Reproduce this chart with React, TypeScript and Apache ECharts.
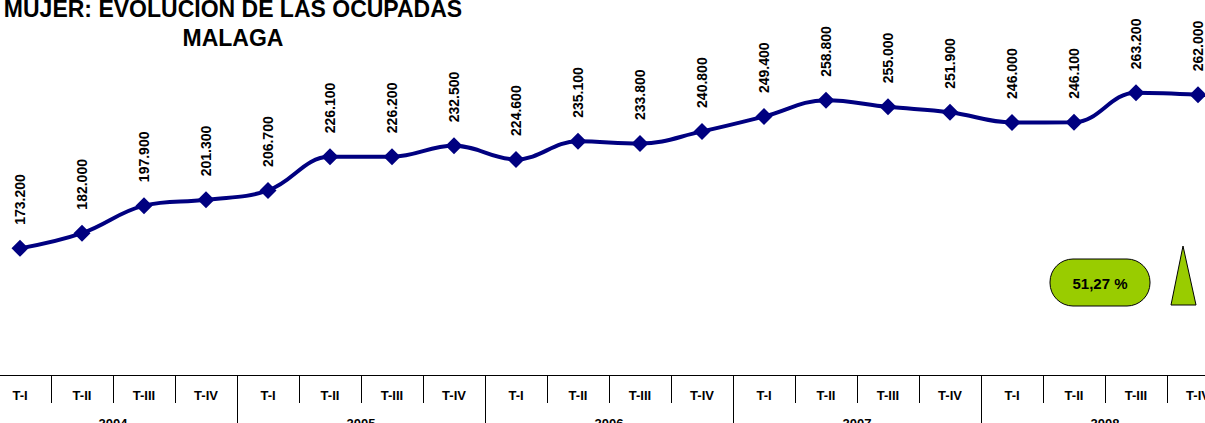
import React, { useEffect, useRef } from "react";
import * as echarts from "echarts";

const quarters = ["T-I", "T-II", "T-III", "T-IV", "T-I", "T-II", "T-III", "T-IV", "T-I", "T-II", "T-III", "T-IV", "T-I", "T-II", "T-III", "T-IV", "T-I", "T-II", "T-III", "T-IV"];
const years = ["2004", "2005", "2006", "2007", "2008"];
const ocupadas = [173200, 182000, 197900, 201300, 206700, 226100, 226200, 232500, 224600, 235100, 233800, 240800, 249400, 258800, 255000, 251900, 246000, 246100, 263200, 262000];
const titleLines = ["MUJER: EVOLUCION DE LAS OCUPADAS", "MALAGA"];
const variation = "51,27 %";

const fmt = (v: number) => {
  const s = Math.round(v).toString();
  return s.replace(/\B(?=(\d{3})+(?!\d))/g, ".");
};

const OFF = 11; // chart canvas starts 11px left of the page edge

export default function App() {
  const ref = useRef<HTMLDivElement>(null);
  useEffect(() => {
    document.body.style.margin = "0";
    const chart = echarts.init(ref.current!, null, { renderer: "svg" });
    const font = "'Liberation Sans', Arial, sans-serif";
    chart.setOption({
      animation: false,
      backgroundColor: "#ffffff",
      textStyle: { fontFamily: font },
      grid: { left: 0, right: 0, top: 29, bottom: 48, containLabel: false, outerBoundsMode: "none" },
      xAxis: [
        {
          type: "category",
          data: quarters,
          position: "bottom",
          boundaryGap: true,
          axisLine: { show: true, lineStyle: { color: "#000", width: 1 } },
          axisTick: { show: true, interval: 0, length: 28, lineStyle: { color: "#000", width: 1 } },
          axisLabel: { interval: 0, margin: 14, color: "#000", fontWeight: "bold", fontSize: 13, fontFamily: font },
        },
        {
          type: "category",
          data: years,
          position: "bottom",
          boundaryGap: true,
          axisLine: { show: false },
          axisTick: { show: true, interval: 0, length: 50, lineStyle: { color: "#000", width: 1 } },
          axisLabel: { interval: 0, margin: 42, color: "#000", fontWeight: "bold", fontSize: 13, fontFamily: font },
        },
      ],
      yAxis: { type: "value", min: 100000, max: 300000, show: false, splitLine: { show: false } },
      series: [
        {
          type: "line",
          xAxisIndex: 0,
          data: ocupadas,
          smooth: 0.4,
          symbol: "diamond",
          symbolSize: 17,
          lineStyle: { color: "#000080", width: 4 },
          itemStyle: { color: "#000080" },
          label: {
            show: true,
            position: "top",
            distance: 15,
            rotate: 90,
            align: "left",
            verticalAlign: "middle",
            color: "#000",
            fontWeight: "bold",
            fontSize: 14,
            fontFamily: font,
            formatter: (p: any) => fmt(p.value),
          },
        },
      ],
      graphic: [
        { type: "text", x: 233 + OFF, y: 9, style: { text: titleLines[0], font: `bold 23px ${font}`, fill: "#000", textAlign: "center", textVerticalAlign: "middle" } },
        { type: "text", x: 233 + OFF, y: 38, style: { text: titleLines[1], font: `bold 23px ${font}`, fill: "#000", textAlign: "center", textVerticalAlign: "middle" } },
        { type: "rect", shape: { x: 1050 + OFF, y: 259, width: 100, height: 47, r: 23 }, style: { fill: "#99cc00", stroke: "#000", lineWidth: 1 } },
        { type: "text", x: 1100 + OFF, y: 283, style: { text: variation, font: `bold 15px ${font}`, fill: "#000", textAlign: "center", textVerticalAlign: "middle" } },
        { type: "polygon", shape: { points: [[1183 + OFF, 246], [1171 + OFF, 305], [1196 + OFF, 305]] }, style: { fill: "#99cc00", stroke: "#000", lineWidth: 1 } },
      ],
    });
    return () => chart.dispose();
  }, []);
  return (
    <div style={{ position: "absolute", left: 0, top: 0, width: 1205, height: 423, overflow: "hidden" }}>
      <div ref={ref} style={{ position: "absolute", left: -OFF, top: 0, width: 1240, height: 423 }} />
    </div>
  );
}
